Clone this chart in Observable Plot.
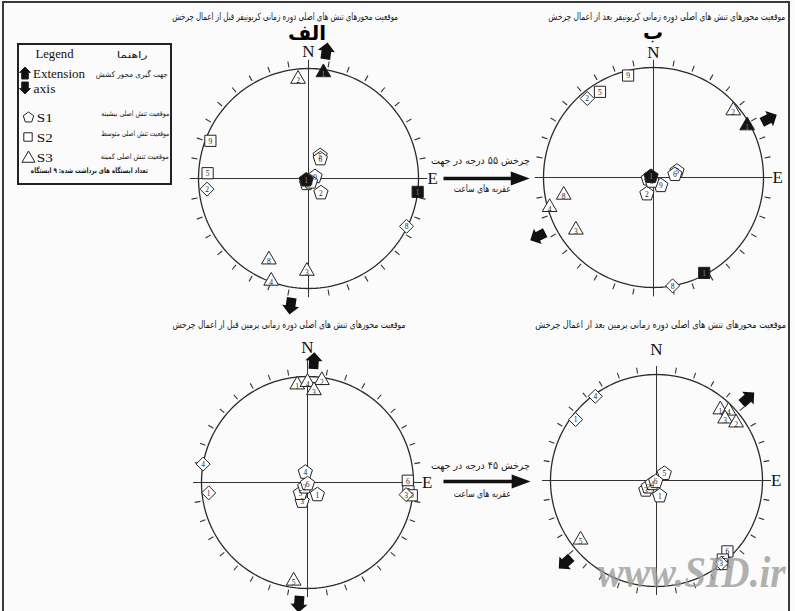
<!DOCTYPE html>
<html><head><meta charset="utf-8">
<script src="https://cdn.jsdelivr.net/npm/d3@7"></script>
<script src="https://cdn.jsdelivr.net/npm/@observablehq/plot@0.6"></script>
<style>
html,body{margin:0;padding:0;background:#fbfbfb}
#page{position:relative;width:795px;height:611px;overflow:hidden;background:#fbfbfb}
.abs{position:absolute;white-space:nowrap;line-height:1}
.fa{font-family:"DejaVu Sans",sans-serif;direction:rtl;color:#1a1a1a}
.la{font-family:"Liberation Serif",serif;color:#111}
.net{position:absolute}
.net svg{overflow:visible;background:transparent}
</style></head><body><div id="page"></div>
<script>
// ---------------- data ----------------
const panelTitles = [
  "موقعیت محورهای تنش های اصلی دوره زمانی کربونیفر قبل از اعمال چرخش",
  "موقعیت محورهای تنش های اصلی دوره زمانی کربونیفر بعد از اعمال چرخش",
  "موقعیت محورهای تنش های اصلی دوره زمانی پرمین قبل از اعمال چرخش",
  "موقعیت محورهای تنش های اصلی دوره زمانی پرمین بعد از اعمال چرخش"];
const panelLetters = ["الف", "ب"];
const rotationDegrees = [55, 45];
const rotationLine1 = "چرخش {n} درجه در جهت";
const rotationLine2 = "عقربه های ساعت";
const legendTitleEn = "Legend", legendTitleFa = "راهنما";
const legendArrowEn = ["Extension", "axis"], legendArrowFa = "جهت گیری محور کشش";
const legendKeys = ["S1", "S2", "S3"];
const legendKeysFa = ["موقعیت  تنش اصلی بیشینه", "موقعیت تنش اصلی متوسط", "موقعیت تنش اصلی کمینه"];
const stationCount = 9;
const legendCountFa = "تعداد ایستگاه های برداشت شده: {n} ایستگاه";
const watermark = "www.SID.ir";

// station axes: [station, trend°, plunge°, filled, marker]
const carbBeforeS1 = [["5",27,71,0],["6",31,73,0],["9",74,85,0],["2",139,76,0],["4",200,86,0],["3",150,87,0],["1",237,88,1]];
const carbBeforeS2 = [["9",291,5,0,"sq"],["5",273,9,0,"sq"],["2",264,8,0,"dm"],["8",116,1,0,"dm"],["1",97,0,1,"sq"]];
const carbBeforeS3 = [["2",354,10,0],["8",206,19,0],["3",181,17,0],["4",200,1,0],["1",8,3,1]];
const carbBeforeExt = [8, 188];

const carbAfterS1 = [["5",75,72,0],["6",82,74,0],["9",138,82,0],["2",202,77,0],["4",255,86,0],["3",205,87,0],["1",293,88,1]];
const carbAfterS2 = [["9",346,5,0,"sq"],["5",328,9,0,"sq"],["2",320,7,0,"dm"],["8",170,0,0,"dm"],["1",152,2,1,"sq"]];
const carbAfterS3 = [["2",50,6,0],["8",259,18,0],["3",236,16,0],["4",254,2,0],["1",61,3,1]];
const carbAfterExt = [63, 243];

const permBeforeS1 = [["4",348,82,0],["1",141,78,0],["3",196,75,0],["5",213,80,0],["2",212,86,0],["6",180,89,0]];
const permBeforeS2 = [["4",280,0,0,"dm"],["1",264,7,0,"dm"],["6",89,6,0,"sq"],["5",95,5,0,"sq"],["3",97,7,0,"dm"],["8",97,1,0,"sq"]];
const permBeforeS3 = [["1",354,8,0],["4",0,6,0],["2",8,3,0],["3",4,14,0],["5",188,7,0]];
const permBeforeExt = [3, 184];

const permAfterS1 = [["5",48,82,0],["1",168,78,0],["3",228,79,0],["2",232,82,0],["4",233,86,0],["6",215,89,0]];
const permAfterS2 = [["4",324,2,0,"dm"],["1",307,5,0,"dm"],["6",135,6,0,"sq"],["5",140,3,0,"sq"],["3",142,1,0,"dm"],["8",142,0,0,"sq"]];
const permAfterS3 = [["1",42,11,0],["4",46,6,0],["3",48,14,0],["2",54,8,0],["5",232,10,0]];
const permAfterExt = [48, 228];

const netData = [
  {S1: carbBeforeS1, S2: carbBeforeS2, S3: carbBeforeS3, ext: carbBeforeExt},
  {S1: carbAfterS1, S2: carbAfterS2, S3: carbAfterS3, ext: carbAfterExt},
  {S1: permBeforeS1, S2: permBeforeS2, S3: permBeforeS3, ext: permBeforeExt},
  {S1: permAfterS1, S2: permAfterS2, S3: permAfterS3, ext: permAfterExt}];

// ---------------- layout ----------------
const layout = [
  {cx: 308, cy: 178, r: 110, nR: 1.15, aR: 1.17, armN: 1.08},
  {cx: 653, cy: 177, r: 110, nR: 1.14, aR: 1.18, armN: 1.07},
  {cx: 307, cy: 482, r: 106, nR: 1.27, aR: 1.15, armN: 1.17},
  {cx: 656, cy: 480, r: 106, nR: 1.24, aR: 1.16, armN: 1.08}];
const titleBoxes = [{l:172, r:398, y:17}, {l:548, r:785, y:17}, {l:172, r:405, y:325}, {l:535, r:786, y:325}];
const letterPos = [{x:307, y:33}, {x:653, y:32}];
const rotArrows = [{x1:443, x2:527, y:178, t1:161, t2:189}, {x1:443, x2:528, y:481, t1:466, t2:494}];

const page = document.getElementById("page");
const rad = Math.PI / 180;
const faDigits = n => String(n).replace(/\d/g, d => "۰۱۲۳۴۵۶۷۸۹"[d]);

function project(trend, plunge) {
  const rn = Math.SQRT2 * Math.sin((90 - plunge) / 2 * rad);
  return {x: rn * Math.sin(trend * rad), y: rn * Math.cos(trend * rad)};
}
function rows(arr, kind) {
  return arr.map(([st, tr, pl, f, mk]) => ({st, tr, pl, f: !!f, kind, mk: mk || kind, ...project(tr, pl)}))
    .sort((a, b) => a.f - b.f);
}
function poly(pts) {
  return {draw(ctx, size) {
    const R = Math.sqrt(size / Math.PI);
    pts.forEach(([a, b], i) => i ? ctx.lineTo(a * R, b * R) : ctx.moveTo(a * R, b * R));
    ctx.closePath();
  }};
}
const pentagonSym = poly(d3.range(5).map(k => { const a = -Math.PI / 2 + k * 2 * Math.PI / 5; return [Math.cos(a), Math.sin(a)]; }));
const triangleSym = poly([[0, -1], [0.866, 0.5], [-0.866, 0.5]]);
const squareSym = poly([[-0.7, -0.7], [0.7, -0.7], [0.7, 0.7], [-0.7, 0.7]]);
const diamondSym = poly([[0, -1], [1, 0], [0, 1], [-1, 0]]);
const arrowSym = poly([[0, -1], [0.9, -0.1], [0.55, -0.1], [0.55, 1], [-0.55, 1], [-0.55, -0.1], [-0.9, -0.1]]);
const headSym = poly([[1, 0], [-1, -0.75], [-1, 0.75]]);

const fillOf = d => d.f ? "#151515" : "white";
const labFill = d => d.f ? "#8a8a8a" : "#222";

function drawNet(i) {
  const L = layout[i], D = netData[i];
  const H = 170, m = H - L.r;
  const s1 = rows(D.S1, "S1"), s2 = rows(D.S2, "S2"), s3 = rows(D.S3, "S3");
  const sq = s2.filter(d => d.mk === "sq"), dm = s2.filter(d => d.mk === "dm");
  const circle = d3.range(0, 361, 2);
  const ticks = d3.range(10, 360, 10).filter(a => a % 90);
  const arms = [0, 90, 180, 270];
  const ext = D.ext.map(t => ({t, x: L.aR * Math.sin(t * rad), y: L.aR * Math.cos(t * rad)}));
  const txt = (data, o) => Plot.text(data, {x: "x", y: "y", text: "st", fontSize: 7.5, fontFamily: "Liberation Serif", fill: labFill, ...o});
  const svg = Plot.plot({
    width: 2 * H, height: 2 * H, margin: m,
    x: {domain: [-1, 1], axis: null}, y: {domain: [-1, 1], axis: null},
    style: {background: "transparent", overflow: "visible"},
    marks: [
      Plot.line(circle, {x: a => Math.sin(a * rad), y: a => Math.cos(a * rad), stroke: "#2a2a2a", strokeWidth: 1.3}),
      Plot.link(arms, {x1: () => 0, y1: () => 0,
        x2: a => (a === 0 ? L.armN : 1.08) * Math.sin(a * rad), y2: a => (a === 0 ? L.armN : 1.08) * Math.cos(a * rad),
        stroke: "#333", strokeWidth: 1}),
      Plot.link(ticks, {x1: a => 1.025 * Math.sin(a * rad), y1: a => 1.025 * Math.cos(a * rad),
        x2: a => 1.08 * Math.sin(a * rad), y2: a => 1.08 * Math.cos(a * rad), stroke: "#333", strokeWidth: 1.1}),
      Plot.text(["N"], {x: () => 0, y: () => L.nR, text: d => d, fontSize: 17, fontFamily: "Liberation Serif", fill: "#111"}),
      Plot.text(["E"], {x: () => 1.13, y: () => 0, text: d => d, fontSize: 17, fontFamily: "Liberation Serif", fill: "#111"}),
      Plot.dot(ext, {x: "x", y: "y", symbol: arrowSym, r: 7.5, rotate: "t", fill: "#111", stroke: "#111"}),
      Plot.dot(sq, {x: "x", y: "y", symbol: squareSym, r: 8, fill: fillOf, stroke: "#222", strokeWidth: 1}),
      txt(sq, {dy: 0.5}),
      Plot.dot(dm, {x: "x", y: "y", symbol: diamondSym, r: 7, fill: fillOf, stroke: "#222", strokeWidth: 1}),
      txt(dm, {dy: 0.5}),
      Plot.dot(s3, {x: "x", y: "y", symbol: triangleSym, r: 8.5, fill: fillOf, stroke: "#222", strokeWidth: 1}),
      txt(s3, {dy: 2}),
      Plot.dot(s1, {x: "x", y: "y", symbol: pentagonSym, r: 7.5, fill: fillOf, stroke: "#222", strokeWidth: 1}),
      txt(s1, {dy: 0.5})
    ]
  });
  const div = document.createElement("div");
  div.className = "net";
  div.style.left = (L.cx - H) + "px"; div.style.top = (L.cy - H) + "px";
  div.style.width = 2 * H + "px"; div.style.height = 2 * H + "px";
  div.appendChild(svg);
  page.appendChild(div);
}

function label(txt, o) {
  const s = document.createElement("div");
  s.className = "abs " + (o.fa ? "fa" : "la");
  s.textContent = txt;
  s.style.fontSize = o.size + "px";
  if (o.bold) s.style.fontWeight = "bold";
  if (o.italic) s.style.fontStyle = "italic";
  if (o.color) s.style.color = o.color;
  page.appendChild(s);
  const b = s.getBoundingClientRect();
  let cx, sx = 1;
  if (o.l != null && o.r != null) { cx = (o.l + o.r) / 2; sx = (o.r - o.l) / b.width; }
  else if (o.l != null) { cx = o.l + (o.w || b.width) / 2; if (o.w) sx = o.w / b.width; }
  else { cx = o.cx; if (o.w) sx = o.w / b.width; }
  s.style.left = (cx - b.width / 2) + "px";
  s.style.top = (o.y - b.height / 2) + "px";
  s.style.transform = `scaleX(${sx})`;
  s.style.transformOrigin = "center";
  return s;
}

function icon(sym, r, x, y, rot, fill) {
  const p = d3.path(); sym.draw(p, Math.PI * r * r);
  const s = r + 3;
  const el = document.createElementNS("http://www.w3.org/2000/svg", "svg");
  el.setAttribute("width", 2 * s); el.setAttribute("height", 2 * s);
  el.style.position = "absolute"; el.style.left = (x - s) + "px"; el.style.top = (y - s) + "px"; el.style.overflow = "visible";
  el.innerHTML = `<path d="${p}" transform="translate(${s},${s}) rotate(${rot})" fill="${fill}" stroke="#222" stroke-width="1"/>`;
  page.appendChild(el);
}

function drawRotation(k) {
  const A = rotArrows[k];
  const w = A.x2 - A.x1;
  const svg = Plot.plot({
    width: w, height: 24, margin: 0,
    x: {domain: [0, 1], axis: null}, y: {domain: [-1, 1], axis: null},
    style: {background: "transparent", overflow: "visible"},
    marks: [
      Plot.link([rotationDegrees[k]], {x1: () => 0, x2: () => 0.83, y1: () => 0, y2: () => 0, stroke: "#111", strokeWidth: 3.4}),
      Plot.dot([rotationDegrees[k]], {x: () => 0.905, y: () => 0, symbol: headSym, r: 8, fill: "#111", stroke: "#111"})
    ]
  });
  const div = document.createElement("div");
  div.className = "net";
  div.style.left = A.x1 + "px"; div.style.top = (A.y - 12) + "px";
  div.style.width = w + "px"; div.style.height = "24px";
  div.appendChild(svg); page.appendChild(div);
  label(rotationLine1.replace("{n}", faDigits(rotationDegrees[k])), {fa: true, size: 10, l: 431, r: 530, y: A.t1});
  label(rotationLine2, {fa: true, size: 10, l: 454, r: 511, y: A.t2});
}

// frame
const frame = document.createElement("div");
frame.style.cssText = "position:absolute;left:2px;top:1px;width:784px;height:640px;border:2px solid #3a3a3a;border-bottom:none";
page.appendChild(frame);

// nets
for (let i = 0; i < 4; i++) drawNet(i);
drawRotation(0); drawRotation(1);

// titles
panelTitles.forEach((t, i) => label(t, {fa: true, size: 10, l: titleBoxes[i].l, r: titleBoxes[i].r, y: titleBoxes[i].y}));
panelLetters.forEach((t, i) => label(t, {fa: true, size: 20, bold: true, cx: letterPos[i].x, y: letterPos[i].y, color: "#000"}));

// legend
const box = document.createElement("div");
box.style.cssText = "position:absolute;left:17px;top:43px;width:155px;height:142px;border:2px solid #222;box-sizing:border-box";
page.appendChild(box);
label(legendTitleEn, {size: 13, l: 35, w: 38, y: 53});
label(legendTitleFa, {fa: true, size: 9, l: 117, r: 148, y: 55});
icon(arrowSym, 6, 25, 73, 0, "#111");
icon(arrowSym, 6, 25, 88, 180, "#111");
label(legendArrowEn[0], {size: 13, l: 33, w: 52, y: 73});
label(legendArrowEn[1], {size: 13, l: 33, w: 22, y: 88});
label(legendArrowFa, {fa: true, size: 8, l: 96, r: 168, y: 75});
const legendSyms = [[pentagonSym, 5.5], [squareSym, 6], [triangleSym, 7.5]];
const legendY = [117, 137, 157], legendFaY = [114, 134, 157];
legendKeys.forEach((k, i) => {
  icon(legendSyms[i][0], legendSyms[i][1], 28, legendY[i] + (i === 2 ? 1 : 0), 0, "white");
  label(k, {size: 13, l: 37, w: 16, y: legendY[i]});
  label(legendKeysFa[i], {fa: true, size: 7.5, l: 101, r: 169, y: legendFaY[i]});
});
label(legendCountFa.replace("{n}", faDigits(stationCount)), {fa: true, size: 7.5, bold: true, l: 31, r: 148, y: 171});

// watermark
label(watermark, {size: 44, bold: true, italic: true, color: "rgba(155,155,155,0.8)", l: 598, r: 786, y: 573});
</script></body></html>
